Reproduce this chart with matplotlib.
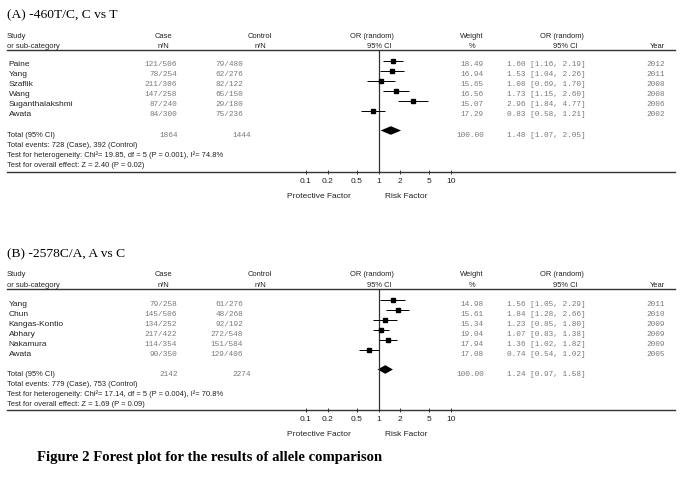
import numpy as np
import matplotlib.pyplot as plt
from matplotlib.transforms import blended_transform_factory

plt.rcParams['font.family'] = 'Liberation Sans'

# Panel A: -460T/C, C vs T
a_study = ['Paine', 'Yang', 'Szaflik', 'Wang', 'Suganthalakshmi', 'Awata']
a_case = ['121/506', '78/254', '211/306', '147/258', '87/240', '84/300']
a_ctrl = ['79/480', '62/276', '82/122', '65/150', '29/180', '75/236']
a_weight = [18.49, 16.94, 15.65, 16.56, 15.07, 17.29]
a_or = [1.60, 1.53, 1.08, 1.73, 2.96, 0.83]
a_lo = [1.16, 1.04, 0.69, 1.15, 1.84, 0.58]
a_hi = [2.19, 2.26, 1.70, 2.60, 4.77, 1.21]
a_year = [2012, 2011, 2008, 2008, 2006, 2002]
a_total = ['1864', '1444']
a_pooled = [1.48, 1.07, 2.05]
a_stats = ['Total events: 728 (Case), 392 (Control)',
           'Test for heterogeneity: Chi\u00b2= 19.85, df = 5 (P = 0.001), I\u00b2= 74.8%',
           'Test for overall effect: Z = 2.40 (P = 0.02)']

# Panel B: -2578C/A, A vs C
b_study = ['Yang', 'Chun', 'Kangas-Kontio', 'Abhary', 'Nakamura', 'Awata']
b_case = ['79/258', '145/506', '134/252', '217/422', '114/354', '90/350']
b_ctrl = ['61/276', '48/268', '92/192', '272/548', '151/584', '129/406']
b_weight = [14.98, 15.61, 15.34, 19.04, 17.94, 17.08]
b_or = [1.56, 1.84, 1.23, 1.07, 1.36, 0.74]
b_lo = [1.05, 1.28, 0.85, 0.83, 1.02, 0.54]
b_hi = [2.29, 2.66, 1.80, 1.38, 1.82, 1.02]
b_year = [2011, 2010, 2009, 2009, 2009, 2005]
b_total = ['2142', '2274']
b_pooled = [1.24, 0.97, 1.58]
b_stats = ['Total events: 779 (Case), 753 (Control)',
           'Test for heterogeneity: Chi\u00b2= 17.14, df = 5 (P = 0.004), I\u00b2= 70.8%',
           'Test for overall effect: Z = 1.69 (P = 0.09)']

ticks = [0.1, 0.2, 0.5, 1, 2, 5, 10]
tick_labels = ['0.1', '0.2', '0.5', '1', '2', '5', '10']

W, H = 683, 488
fig = plt.figure(figsize=(W / 100, H / 100), dpi=100)
bg = fig.add_axes([0, 0, 1, 1])
bg.set_xlim(0, W)
bg.set_ylim(H, 0)
bg.axis('off')

SANS = dict(family='Liberation Sans', fontsize=6, color='#222222')
SMALL = dict(family='Liberation Sans', fontsize=5.45, color='#222222')
MONO = dict(family='Liberation Mono', fontsize=5.6, color='#7a7a7a')


def draw_panel(top, bottom, title, study, case, ctrl, weight, orr, lo, hi,
               year, total, pooled, stats):
    """Draw one forest plot panel between header line and axis line."""
    ax = fig.add_axes([306 / W, 1 - bottom / H, 145 / W, (bottom - top) / H])
    ax.set_xscale('log')
    ax.set_xlim(0.1, 10)
    gap, sp = 10.5, 10.0
    ax.set_ylim((bottom - top - gap) / sp, -gap / sp)
    for s in ax.spines.values():
        s.set_visible(False)
    ax.patch.set_visible(False)
    ax.set_yticks([])
    ax.set_xticks(ticks)
    ax.set_xticklabels(tick_labels)
    ax.minorticks_off()
    ax.tick_params(axis='x', direction='inout', length=3, width=0.6,
                   pad=3, labelsize=6, labelcolor='#222222', color='#222222')
    ax.axvline(1, color='#333333', lw=0.9)

    n = len(study)
    rows = np.arange(n)
    trow = n + 1
    # studies
    ax.hlines(rows, lo, hi, color='black', lw=0.7)
    for r, w, o in zip(rows, weight, orr):
        ax.plot(o, r, marker='s', color='black', ms=3.3 * np.sqrt(w / 16.7),
                clip_on=False)
    # pooled diamond
    o, l, h = pooled
    ax.fill([l, o, h, o], [trow, trow - 0.43, trow, trow + 0.43],
            color='black', lw=0)

    # full-width header and axis lines
    tb = blended_transform_factory(bg.transData, ax.transAxes)
    bg.plot([7, 675], [1, 1], transform=tb, color='#333333', lw=1.0)
    bg.plot([7, 675], [0, 0], transform=tb, color='#333333', lw=1.0)

    t = blended_transform_factory(bg.transData, ax.transData)
    bg.text(7, -4.5, title, transform=t, family='Liberation Serif',
            fontsize=9.7, color='black', va='center')
    # column headers
    hdr = [(7, 'Study', 'or sub-category', 'left'),
           (163, 'Case', 'n/N', 'center'),
           (260, 'Control', 'n/N', 'center')]
    for x, h1, h2, ha in hdr:
        bg.text(x, -2.45, h1, transform=t, ha=ha, va='center', **SMALL)
        bg.text(x, -1.4, h2, transform=t, ha=ha, va='center', **SMALL)
    bg.text(372, -2.45, 'OR (random)', transform=t, ha='center', va='center', **SMALL)
    bg.text(379, -1.4, '95% CI', transform=t, ha='center', va='center', **SMALL)
    bg.text(472, -2.45, 'Weight', transform=t, ha='center', va='center', **SMALL)
    bg.text(472, -1.4, '%', transform=t, ha='center', va='center', **SMALL)
    bg.text(562, -2.45, 'OR (random)', transform=t, ha='center', va='center', **SMALL)
    bg.text(565, -1.4, '95% CI', transform=t, ha='center', va='center', **SMALL)
    bg.text(665, -1.4, 'Year', transform=t, ha='right', va='center', **SMALL)

    for i in range(n):
        y = rows[i] + 0.45
        bg.text(8.5, y, study[i], transform=t, ha='left', va='center', **SANS)
        bg.text(177, y, case[i], transform=t, ha='right', va='center', **MONO)
        bg.text(243, y, ctrl[i], transform=t, ha='right', va='center', **MONO)
        bg.text(484, y, '%.2f' % weight[i], transform=t, ha='right', va='center', **MONO)
        bg.text(507, y, '%.2f [%.2f, %.2f]' % (orr[i], lo[i], hi[i]),
                transform=t, ha='left', va='center', **MONO)
        bg.text(665, y, str(year[i]), transform=t, ha='right', va='center', **MONO)

    y = trow + 0.5
    bg.text(7, y, 'Total (95% CI)', transform=t, ha='left', va='center', **SMALL)
    bg.text(178, y, total[0], transform=t, ha='right', va='center', **MONO)
    bg.text(251, y, total[1], transform=t, ha='right', va='center', **MONO)
    bg.text(484, y, '100.00', transform=t, ha='right', va='center', **MONO)
    bg.text(507, y, '%.2f [%.2f, %.2f]' % tuple(pooled), transform=t,
            ha='left', va='center', **MONO)
    for k, s in enumerate(stats):
        bg.text(7, trow + 1.5 + k, s, transform=t, ha='left', va='center', **SMALL)

    ax.annotate('Protective Factor', xy=(0.15, 0), xycoords=('data', 'axes fraction'),
                xytext=(0, -18), textcoords='offset points', ha='center',
                va='center', **SANS)
    ax.annotate('Risk Factor', xy=(2.4, 0), xycoords=('data', 'axes fraction'),
                xytext=(0, -18), textcoords='offset points', ha='center',
                va='center', **SANS)


draw_panel(50, 171.5, '(A) -460T/C, C vs T', a_study, a_case, a_ctrl, a_weight,
           a_or, a_lo, a_hi, a_year, a_total, a_pooled, a_stats)
draw_panel(289, 410, '(B) -2578C/A, A vs C', b_study, b_case, b_ctrl, b_weight,
           b_or, b_lo, b_hi, b_year, b_total, b_pooled, b_stats)

fig.text(37 / W, 1 - 457 / H, 'Figure 2 Forest plot for the results of allele comparison',
         family='Liberation Serif', fontweight='bold', fontsize=10.6,
         va='center', ha='left')

fig.savefig('out.png', dpi=100)
